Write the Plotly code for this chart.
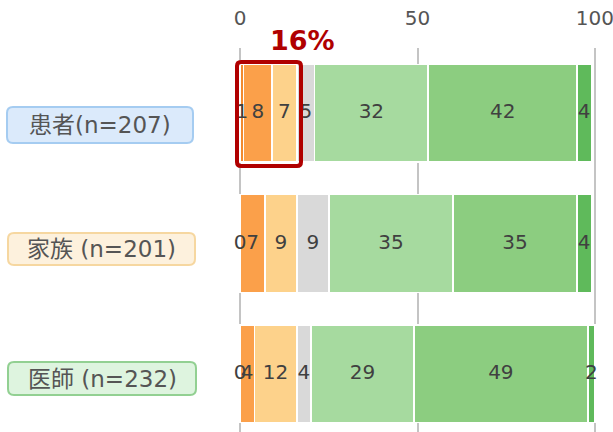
import plotly.graph_objects as go
import numpy as np

categories = ["患者(n=207)", "家族 (n=201)", "医師 (n=232)"]
seg1 = [1, 0, 0]
seg2 = [8, 7, 4]
seg3 = [7, 9, 12]
seg4 = [5, 9, 4]
seg5 = [32, 35, 29]
seg6 = [42, 35, 49]
seg7 = [4, 4, 2]
series = [seg1, seg2, seg3, seg4, seg5, seg6, seg7]
colors = ["#f28a2e", "#fba04a", "#fdd28b", "#d9d9d9", "#a6da9f", "#8ccd80", "#5fba5b"]
tick_vals = [0, 50, 100]
highlight_text = "16%"

W, H = 613, 432
L, R, T, B = 238, 16, 48, 0
PW, PH = W - L - R, H - T - B

def X(px):
    return (px - L) / PW

def Y(py):
    return 1 - (py - T) / PH

def rrect(x0, y0, x1, y1, r):
    return (f"M {X(x0+r)},{Y(y0)} L {X(x1-r)},{Y(y0)} Q {X(x1)},{Y(y0)} {X(x1)},{Y(y0+r)} "
            f"L {X(x1)},{Y(y1-r)} Q {X(x1)},{Y(y1)} {X(x1-r)},{Y(y1)} "
            f"L {X(x0+r)},{Y(y1)} Q {X(x0)},{Y(y1)} {X(x0)},{Y(y1-r)} "
            f"L {X(x0)},{Y(y0+r)} Q {X(x0)},{Y(y0)} {X(x0+r)},{Y(y0)} Z")

ypos = list(range(len(categories)))
fig = go.Figure()
for vals, c in zip(series, colors):
    fig.add_trace(go.Bar(x=vals, y=ypos, orientation="h", width=0.75,
                         marker=dict(color=c, line=dict(color="white", width=1.5)),
                         hoverinfo="skip"))

arr = np.array(series, dtype=float)
cum = np.cumsum(arr, axis=0)
mids = cum - arr / 2
tx, ty, tt = [], [], []
for i in range(arr.shape[0]):
    for j in range(arr.shape[1]):
        tx.append(mids[i, j]); ty.append(j); tt.append(str(series[i][j]))
fig.add_trace(go.Scatter(x=tx, y=ty, text=tt, mode="text", cliponaxis=False,
                         textfont=dict(family="DejaVu Sans", size=20, color="#404040"),
                         hoverinfo="skip"))

shapes = []
annotations = []
boxes = [
    ((7, 107, 193, 143), "#dbeafb", "#a5ccf1"),
    ((8, 233, 195, 265), "#fdf1dd", "#f6d7a0"),
    ((8, 362, 196, 395), "#def4df", "#92d092"),
]
for (b, fill, border), label in zip(boxes, categories):
    x0, y0, x1, y1 = b
    shapes.append(dict(type="path", xref="paper", yref="paper", path=rrect(x0, y0, x1, y1, 6),
                       fillcolor=fill, line=dict(color=border, width=2)))
    annotations.append(dict(xref="paper", yref="paper", x=X((x0 + x1) / 2), y=Y((y0 + y1) / 2),
                            text=label, showarrow=False, xanchor="center", yanchor="middle",
                            font=dict(family="DejaVu Sans, Noto Sans CJK JP", size=23, color="#555555")))

shapes.append(dict(type="path", xref="paper", yref="paper", path=rrect(237, 62, 301, 166, 4),
                   fillcolor="rgba(0,0,0,0)", line=dict(color="#b00000", width=4), layer="above"))
annotations.append(dict(xref="paper", yref="paper", x=X(302), y=Y(40), text=f"<b>{highlight_text}</b>",
                        showarrow=False, xanchor="center", yanchor="middle",
                        font=dict(family="DejaVu Sans", size=27, color="#b00000")))

fig.update_layout(
    width=W, height=H, barmode="stack", showlegend=False,
    margin=dict(l=L, r=R, t=T, b=B, pad=0),
    plot_bgcolor="white", paper_bgcolor="white",
    shapes=shapes, annotations=annotations,
    xaxis=dict(side="top", range=[-0.6, 100.6], tickvals=tick_vals, showgrid=True,
               gridcolor="#c4c4c4", gridwidth=1.5, zeroline=False, showline=False,
               ticks="outside", ticklen=14, tickcolor="rgba(0,0,0,0)",
               ticklabeloverflow="allow",
               tickfont=dict(family="DejaVu Sans", size=20, color="#555555"), fixedrange=True),
    yaxis=dict(range=[(H - 114) / 130, -0.5], showticklabels=False, showgrid=False,
               zeroline=False, showline=False, fixedrange=True),
)
fig.write_html("out.html", config={"displayModeBar": False},
               post_script="document.body.style.margin='0';")
